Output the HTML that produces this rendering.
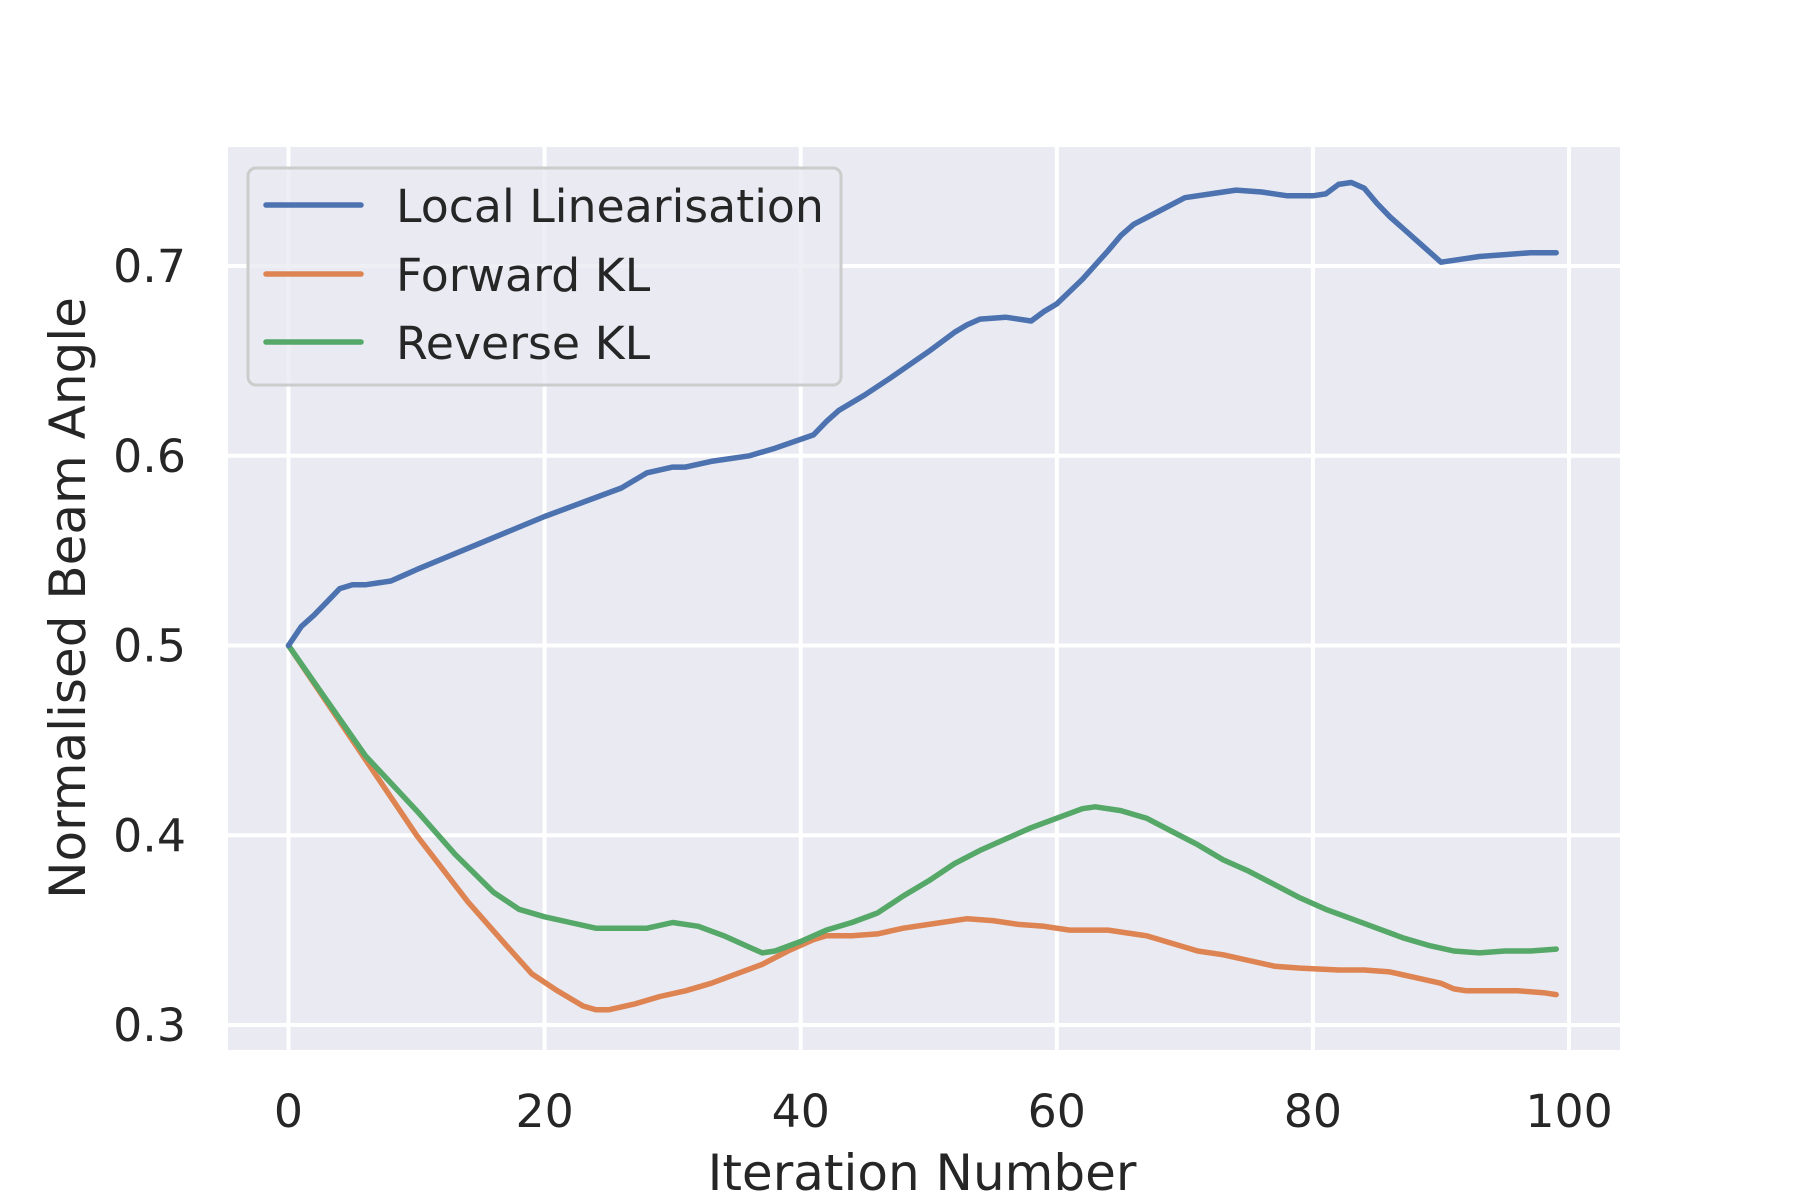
<!DOCTYPE html>
<html><head><meta charset="utf-8"><style>
html,body{margin:0;padding:0;background:#fff;}
svg{display:block;font-family:"DejaVu Sans","Liberation Sans",sans-serif;}
</style></head><body>
<svg id="chart" width="1800" height="1200" viewBox="0 0 1800 1200" xmlns="http://www.w3.org/2000/svg">
<rect x="228" y="147" width="1392" height="903" fill="#eaeaf2"/>
<g id="grid"></g>
<g id="ticks" fill="#262626" font-size="45.8"></g>
<g id="series"></g>
<text x="922" y="1190" text-anchor="middle" font-size="50" fill="#262626">Iteration Number</text>
<text transform="translate(85,598) rotate(-90)" text-anchor="middle" font-size="50" fill="#262626">Normalised Beam Angle</text>
<g>
<rect x="248" y="168" width="593" height="217" rx="8" fill="#eaeaf2" fill-opacity="0.8" stroke="#cccccc" stroke-width="3"/>
<g><line x1="266" y1="205" x2="361" y2="205" stroke="#4c72b0" stroke-width="5.5" stroke-linecap="round"/><text x="396" y="222" font-size="45.8" fill="#262626">Local Linearisation</text></g>
<g><line x1="266" y1="274" x2="361" y2="274" stroke="#dd8452" stroke-width="5.5" stroke-linecap="round"/><text x="396" y="291" font-size="45.8" fill="#262626">Forward KL</text></g>
<g><line x1="266" y1="342" x2="361" y2="342" stroke="#55a868" stroke-width="5.5" stroke-linecap="round"/><text x="396" y="359" font-size="45.8" fill="#262626">Reverse KL</text></g>
</g>
</svg>
<script>
const xTicks = [0, 20, 40, 60, 80, 100];
const yTicks = [0.3, 0.4, 0.5, 0.6, 0.7];
const yTickLabels = ["0.3", "0.4", "0.5", "0.6", "0.7"];
const llIter = [0,1,2,3,4,5,6,7,8,9,10,20,24,26,28,30,31,33,36,38,41,42,43,45,47,50,52,53,54,56,58,59,60,62,64,65,66,68,70,72,74,76,78,80,81,82,83,84,85,86,87,88,89,90,91,93,95,97,99];
const llVals = [0.5,0.51,0.516,0.523,0.53,0.532,0.532,0.533,0.534,0.537,0.54,0.568,0.578,0.583,0.591,0.594,0.594,0.597,0.6,0.604,0.611,0.618,0.624,0.632,0.641,0.655,0.665,0.669,0.672,0.673,0.671,0.676,0.68,0.693,0.708,0.716,0.722,0.729,0.736,0.738,0.74,0.739,0.737,0.737,0.738,0.743,0.744,0.741,0.733,0.726,0.72,0.714,0.708,0.702,0.703,0.705,0.706,0.707,0.707];
const fwIter = [0,6,10,14,17,19,21,23,24,25,27,29,31,33,35,37,39,41,42,44,46,48,50,53,55,57,59,61,64,67,69,71,73,75,77,79,82,84,86,88,90,91,92,94,96,98,99];
const fwVals = [0.5,0.44,0.40,0.365,0.342,0.327,0.318,0.31,0.308,0.308,0.311,0.315,0.318,0.322,0.327,0.332,0.339,0.345,0.347,0.347,0.348,0.351,0.353,0.356,0.355,0.353,0.352,0.35,0.35,0.347,0.343,0.339,0.337,0.334,0.331,0.33,0.329,0.329,0.328,0.325,0.322,0.319,0.318,0.318,0.318,0.317,0.316];
const rvIter = [0,6,10,13,16,18,20,22,24,27,28,30,32,34,36,37,38,40,42,44,46,48,50,52,54,56,58,60,62,63,65,67,69,71,73,75,77,79,81,83,85,87,89,91,93,95,97,99];
const rvVals = [0.5,0.442,0.413,0.39,0.37,0.361,0.357,0.354,0.351,0.351,0.351,0.354,0.352,0.347,0.341,0.338,0.339,0.344,0.35,0.354,0.359,0.368,0.376,0.385,0.392,0.398,0.404,0.409,0.414,0.415,0.413,0.409,0.402,0.395,0.387,0.381,0.374,0.367,0.361,0.356,0.351,0.346,0.342,0.339,0.338,0.339,0.339,0.34];

const NS = "http://www.w3.org/2000/svg";
const X0 = 228, X1 = 1620, Y0 = 1050, Y1 = 147;
const xMin = -4.725, xMax = 103.98;
const yMin = 0.3 - 25/1897.5, yMax = 0.3 + 878/1897.5;
function xs(v){ return X0 + (v - xMin) / (xMax - xMin) * (X1 - X0); }
function ys(v){ return Y0 - (v - yMin) / (yMax - yMin) * (Y0 - Y1); }

const grid = document.getElementById('grid');
const ticks = document.getElementById('ticks');
xTicks.forEach(t => {
  const l = document.createElementNS(NS, 'line');
  l.setAttribute('x1', xs(t)); l.setAttribute('x2', xs(t));
  l.setAttribute('y1', Y1); l.setAttribute('y2', Y0);
  l.setAttribute('stroke', '#fff'); l.setAttribute('stroke-width', 4);
  
  
  grid.appendChild(l);
  const tx = document.createElementNS(NS, 'text');
  tx.setAttribute('x', xs(t)); tx.setAttribute('y', 1127);
  tx.setAttribute('text-anchor', 'middle');
  tx.textContent = String(t);
  
  
  ticks.appendChild(tx);
});
yTicks.forEach((t, i) => {
  const l = document.createElementNS(NS, 'line');
  l.setAttribute('x1', X0); l.setAttribute('x2', X1);
  l.setAttribute('y1', ys(t)); l.setAttribute('y2', ys(t));
  l.setAttribute('stroke', '#fff'); l.setAttribute('stroke-width', 4);
  
  
  grid.appendChild(l);
  const tx = document.createElementNS(NS, 'text');
  tx.setAttribute('x', 186); tx.setAttribute('y', ys(t) + 16);
  tx.setAttribute('text-anchor', 'end');
  tx.textContent = yTickLabels[i];
  
  
  ticks.appendChild(tx);
});

const series = document.getElementById('series');
function drawLine(xsArr, vals, color, name){
  const p = document.createElementNS(NS, 'polyline');
  p.setAttribute('points', xsArr.map((x, i) => xs(x).toFixed(1) + ',' + ys(vals[i]).toFixed(1)).join(' '));
  p.setAttribute('fill', 'none'); p.setAttribute('stroke', color);
  p.setAttribute('stroke-width', 5.5); p.setAttribute('stroke-linejoin', 'round'); p.setAttribute('stroke-linecap', 'round');
  
  
  series.appendChild(p);
}
drawLine(fwIter, fwVals, '#dd8452', 'forward-kl-line');
drawLine(rvIter, rvVals, '#55a868', 'reverse-kl-line');
drawLine(llIter, llVals, '#4c72b0', 'local-linearisation-line');
</script>
</body></html>
